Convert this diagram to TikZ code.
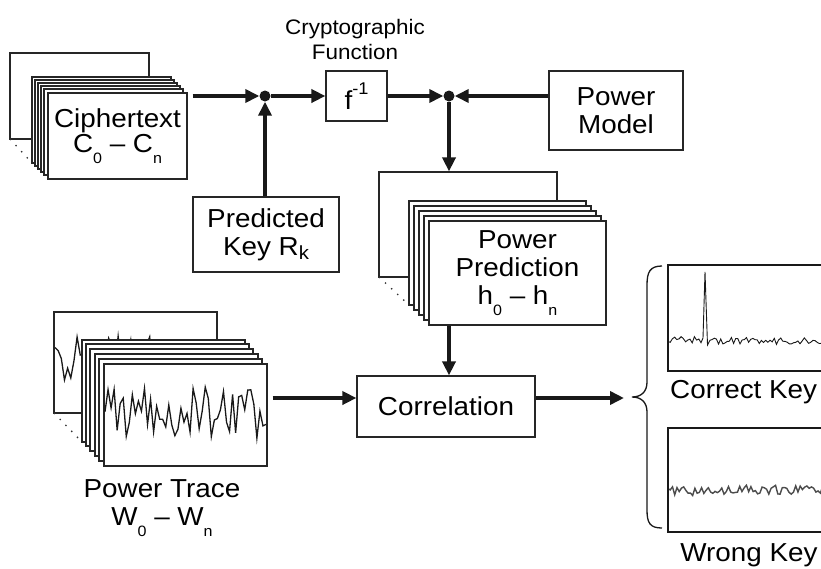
\documentclass[tikz,border=0pt]{standalone}
\usepackage{fontspec}
\setmainfont[FakeStretch=1.07]{Liberation Sans}
\usetikzlibrary{arrows.meta}
\newcommand{\lowsub}[1]{\raisebox{-0.42em}{\fontsize{15}{15}\selectfont #1}}
\begin{document}
\begin{tikzpicture}[x=1pt,y=-1pt,
  box/.style={draw=black!85, line width=1.2pt, fill=white, align=center, inner sep=0pt,
    text=black, font=\fontsize{26}{28}\selectfont},
  sheet/.style={draw=black!85, line width=1.2pt, fill=white},
  arr/.style={line width=3.6pt, draw=black!90, -{Triangle[length=14pt,width=13pt]}},
  dotn/.style={circle, fill=black!90, minimum size=11pt, inner sep=0pt},
  dots/.style={draw=black!80, line width=1.3pt, dash pattern=on 1.3pt off 7pt},
  trace/.style={draw=black!90, line width=1.3pt, line join=miter},
  plotbox/.style={draw=black!90, line width=2.6pt, inner sep=0pt},
  lbl/.style={text=black, align=center, inner sep=0pt, font=\fontsize{26}{30}\selectfont}]
\clip (0,0) rectangle (821,568);
\fill[white] (0,0) rectangle (821,568);

% ---------- Ciphertext stack
\draw[sheet] (10,53) rectangle ++(139,86);
\draw[dots] (10,139) -- (32,163);
\foreach \dx/\dy in {32/77,35/80,38/83,41/86,44/89}
  \draw[sheet] (\dx,\dy) rectangle ++(139,86);
\node[box, minimum width=139pt, minimum height=86pt] (ciph) at (117.5,136)
  {Ciphertext\\[-3pt]C\lowsub{0} -- C\lowsub{n}};

% ---------- junctions and function
\node[dotn] (d1) at (265,96) {};
\node[dotn] (d2) at (449,96) {};
\node[box, minimum width=61pt, minimum height=50pt] (f) at (356.5,96)
  {f\raisebox{0.55em}{\fontsize{17}{17}\selectfont -1}};
\node[lbl, font=\fontsize{21}{25}\selectfont] (cf) at (355,39) {Cryptographic\\Function};
\node[box, minimum width=146pt, minimum height=75pt] (pk) at (266,234.5)
  {Predicted\\Key R\raisebox{-0.18em}{\fontsize{19}{19}\selectfont k}};
\node[box, minimum width=134pt, minimum height=79pt] (pm) at (616,110.5) {Power\\Model};

% ---------- Power prediction stack
\node[sheet, minimum width=178pt, minimum height=105pt, inner sep=0pt] (ppback) at (468,224.5) {};
\draw[dots] (379,277) -- (409,305);
\foreach \dx/\dy in {409/201,414/206,419/211,424/216}
  \draw[sheet] (\dx,\dy) rectangle ++(177,104);
\node[box, minimum width=177pt, minimum height=104pt] (pp) at (517.5,273)
  {Power\\Prediction\\h\lowsub{0} -- h\lowsub{n}};

% ---------- Correlation
\node[box, minimum width=178pt, minimum height=61pt] (corr) at (446,406.5) {Correlation};
\coordinate (cin) at ([yshift=8.5pt]corr.west);
\coordinate (cout) at ([yshift=8.5pt]corr.east);
\coordinate (bt) at (624,398);

% ---------- Power trace stack
\draw[sheet] (54,312) rectangle ++(163,101);
\begin{scope}
  \clip (54,312) rectangle ++(163,101);
  \pgfmathsetseed{23}
  \draw[trace] plot[domain=55:216, samples=52] (\x,{360+24*rand});
\end{scope}
\draw[dots] (54,413) -- (82,442);
\foreach \dx/\dy in {82/340,86/344,90/349,95/354,99/359}
  \draw[sheet] (\dx,\dy) rectangle ++(163,102);
\node[box, minimum width=163pt, minimum height=102pt] (pt) at (185.5,415) {};
\begin{scope}
  \clip (104,364) rectangle (267,466);
  \pgfmathsetseed{5}
  \draw[trace] plot[domain=105:266, samples=54] (\x,{413+26*rand});
\end{scope}
\node[lbl] (ptl) at (162,508) {Power Trace\\[-2pt]W\lowsub{0} -- W\lowsub{n}};

% ---------- Result plots
\node[plotbox, minimum width=177pt, minimum height=106pt] (ck) at (756.5,318) {};
\begin{scope}
  \clip (669,266) rectangle (845,370);
  \pgfmathsetseed{3}
  \draw[trace, line width=0.9pt] plot[domain=668:701, samples=16] (\x,{340+3.5*rand})
    -- (703,338) -- (705,272) -- (707.5,345)
    -- plot[domain=710:845, samples=64] (\x,{341+3.5*rand});
\end{scope}
\node[lbl, anchor=west] (ckl) at (670,392) {Correct Key};
\node[plotbox, minimum width=177pt, minimum height=104pt] (wk) at (756.5,480) {};
\begin{scope}
  \clip (669,429) rectangle (845,531);
  \pgfmathsetseed{9}
  \draw[trace, line width=1.4pt, draw=black!70] plot[domain=668:845, samples=80] (\x,{490+5.5*rand});
\end{scope}
\node[lbl] (wkl) at (749,555) {Wrong Key};

% ---------- brace
\draw[line width=1.3pt, black!90] (662,266) .. controls (650,266) and (647,272) .. (647,285)
  -- (647,382) .. controls (647,392) and (641,397) .. (632,397)
  .. controls (641,397) and (647,402) .. (647,412)
  -- (647,510) .. controls (647,523) and (650,528) .. (662,528);

% ---------- connectors
\draw[arr] (ciph.east |- d1) ++(5,0) -- (d1);
\draw[arr] (d1 |- pk.north) -- (d1);
\draw[arr] (d1) -- (f.west);
\draw[arr] (f.east) -- (d2);
\draw[arr] (pm.west |- d2) -- (d2);
\draw[arr] (d2) -- (d2 |- ppback.north);
\draw[arr] (d2 |- pp.south) -- (d2 |- corr.north);
\draw[arr] (pt.east |- cin) ++(5,0) -- (cin);
\draw[arr] (cout) -- (bt);
\end{tikzpicture}
\end{document}
